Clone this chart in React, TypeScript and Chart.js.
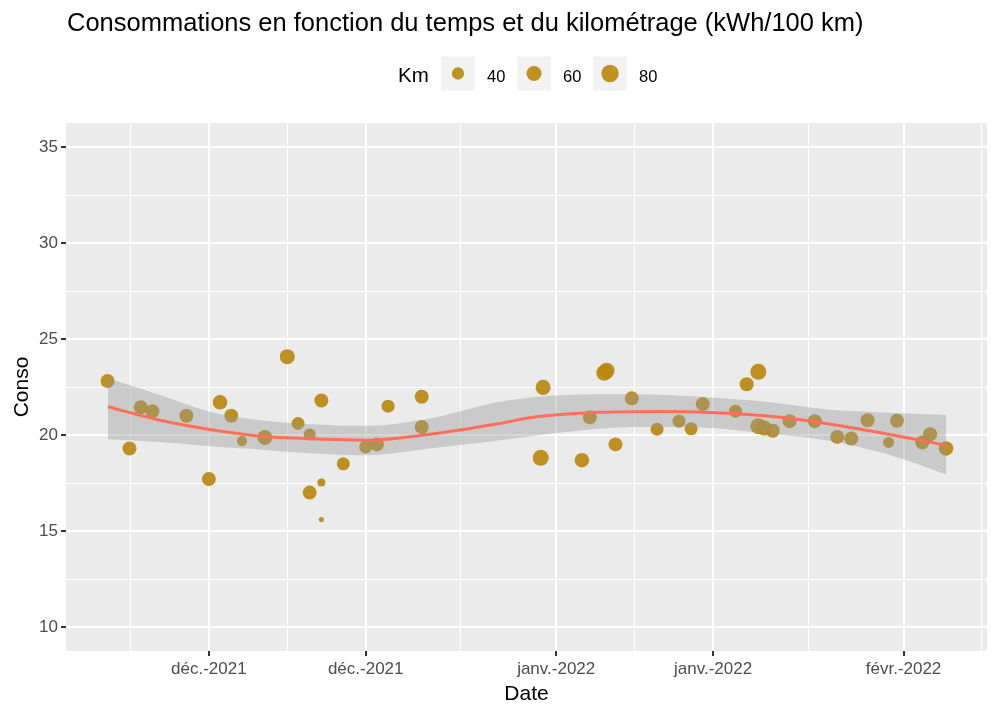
import React, { useEffect, useRef } from 'react';
import { Chart, registerables } from 'chart.js';

Chart.register(...registerables);

// ---------- data ----------
const ORIGIN = Date.UTC(2021, 11, 1); // x unit: days since 2021-12-01

const dates = [
  '2021-11-21 23', '2021-11-23 22', '2021-11-24 22', '2021-11-25 23', '2021-11-29 00',
  '2021-12-01 00', '2021-12-02 00', '2021-12-03 00', '2021-12-03 23', '2021-12-06 00',
  '2021-12-08 00', '2021-12-08 23', '2021-12-10 00', '2021-12-10 00', '2021-12-11 01',
  '2021-12-11 01', '2021-12-11 01', '2021-12-13 00', '2021-12-15 00', '2021-12-16 00',
  '2021-12-17 00', '2021-12-20 00', '2021-12-20 00', '2021-12-30 20', '2021-12-30 15',
  '2022-01-03 07', '2022-01-04 00', '2022-01-05 07', '2022-01-05 12', '2022-01-06 07',
  '2022-01-07 18', '2022-01-10 00', '2022-01-11 23', '2022-01-13 01', '2022-01-14 02',
  '2022-01-17 00', '2022-01-18 00', '2022-01-19 01', '2022-01-19 01', '2022-01-19 14',
  '2022-01-20 08', '2022-01-21 20', '2022-01-24 02', '2022-01-26 02', '2022-01-27 08',
  '2022-01-28 19', '2022-01-30 16', '2022-01-31 10', '2022-02-02 16', '2022-02-03 09',
  '2022-02-04 19',
];

const conso = [
  22.81, 19.30, 21.44, 21.24, 21.00,
  17.71, 21.70, 21.00, 19.68, 19.87,
  24.08, 20.60, 20.03, 17.00, 21.80,
  17.52, 15.60, 18.50, 19.38, 19.51,
  21.50, 21.99, 20.42, 22.48, 18.81,
  18.69, 20.92, 23.24, 23.35, 19.51,
  21.91, 20.30, 20.72, 20.32, 21.61,
  21.24, 22.64, 23.29, 20.46, 20.36,
  20.22, 20.72, 20.72, 19.90, 19.82,
  20.77, 19.61, 20.74, 19.61, 20.04,
  19.30,
];

const km = [
  52, 52, 52, 52, 52,
  52, 56, 52, 27, 60,
  60, 45, 38, 52, 52,
  17, 7, 45, 45, 52,
  45, 52, 52, 60, 68,
  56, 52, 68, 68, 52,
  52, 45, 45, 45, 52,
  45, 52, 68, 68, 60,
  52, 52, 52, 52, 52,
  52, 32, 52, 52, 52,
  56,
];

// loess fit
const fitDays = [-9.01, -4.37, 0.09, 4.55, 7.23, 14.07, 19.71, 25.96, 28.93, 34.88, 40.83, 46.77, 52.72, 58.67, 65.81];
const fitValues = [21.47, 20.77, 20.29, 19.94, 19.85, 19.73, 20.04, 20.60, 20.92, 21.18, 21.23, 21.12, 20.81, 20.25, 19.47];

// confidence band
const bandDays = [-9.01, -4.37, 0.09, 4.55, 7.23, 14.07, 19.71, 25.96, 31.91, 37.82, 43.8, 49.75, 55.66, 58.07, 62.24, 65.81];
const bandUpper = [22.95, 22.08, 21.21, 20.77, 20.63, 20.48, 20.86, 21.73, 22.08, 22.12, 21.99, 21.73, 21.30, 21.24, 21.12, 21.04];
const bandLower = [19.78, 19.64, 19.42, 19.25, 19.12, 18.95, 19.30, 19.73, 20.16, 20.42, 20.39, 20.08, 19.68, 19.37, 18.69, 17.94];

// axes
const xBreakDates = ['2021-12-01', '2021-12-15', '2022-01-01', '2022-01-15', '2022-02-01'];
const xBreakLabels = ['déc.-2021', 'déc.-2021', 'janv.-2022', 'janv.-2022', 'févr.-2022'];
const yBreaks = [10, 15, 20, 25, 30, 35];
const legendKm = [40, 60, 80];

const TITLE = 'Consommations en fonction du temps et du kilométrage (kWh/100 km)';
const X_TITLE = 'Date';
const Y_TITLE = 'Conso';
const LEGEND_TITLE = 'Km';

// ---------- helpers ----------
const toDay = (s: string) => {
  const [d, h] = s.split(' ');
  const [Y, M, D] = d.split('-').map(Number);
  return (Date.UTC(Y, M - 1, D, h ? Number(h) : 0) - ORIGIN) / 86400000;
};

const xBreaks = xBreakDates.map(toDay);

const minorBreaks = (b: number[]) => {
  const bd = b[1] - b[0];
  const ext = [b[0] - bd, ...b, b[b.length - 1] + bd];
  const out: number[] = [];
  for (let i = 0; i < ext.length - 1; i++) out.push((ext[i] + ext[i + 1]) / 2);
  return out;
};

const X_MIN = -12.75;
const X_MAX = 69.45;
const Y_MIN = 8.75;
const Y_MAX = 36.25;

const xMinor = minorBreaks(xBreaks).filter((v) => v > X_MIN && v < X_MAX);
const yMinor = minorBreaks(yBreaks).filter((v) => v > Y_MIN && v < Y_MAX);

const POINT_COLOR = 'rgba(184,134,11,0.9)';
const FONT = '"Liberation Sans", Arial, sans-serif';
const radiusFor = (k: number) => 0.97 * Math.sqrt(k);

const isMajor = (list: number[], v: number | undefined) =>
  v !== undefined && list.some((b) => Math.abs(b - v) < 1e-6);

const decor = {
  id: 'decor',
  beforeDraw(chart: any) {
    const { ctx, chartArea: a } = chart;
    ctx.save();
    ctx.fillStyle = '#FFFFFF';
    ctx.fillRect(0, 0, chart.width, chart.height);
    ctx.fillStyle = '#EBEBEB';
    ctx.fillRect(a.left, a.top, a.right - a.left, a.bottom - a.top);
    ctx.restore();
  },
  afterDraw(chart: any) {
    const { ctx, chartArea: a } = chart;
    ctx.save();
    ctx.fillStyle = '#000000';
    ctx.textBaseline = 'alphabetic';
    // title
    ctx.font = `25.5px ${FONT}`;
    ctx.textAlign = 'left';
    ctx.fillText(TITLE, 67, 30.5);
    // x title
    ctx.font = `21px ${FONT}`;
    ctx.textAlign = 'center';
    ctx.fillText(X_TITLE, (a.left + a.right) / 2, 700);
    // y title
    ctx.save();
    ctx.translate(28, (a.top + a.bottom) / 2);
    ctx.rotate(-Math.PI / 2);
    ctx.fillText(Y_TITLE, 0, 0);
    ctx.restore();
    // legend
    ctx.textAlign = 'left';
    ctx.font = `20.5px ${FONT}`;
    ctx.fillText(LEGEND_TITLE, 398, 82);
    legendKm.forEach((k, i) => {
      const cx = 458 + 76 * i;
      const cy = 73.5;
      ctx.fillStyle = '#F2F2F2';
      ctx.fillRect(cx - 17, cy - 17, 34, 34);
      ctx.fillStyle = POINT_COLOR;
      ctx.beginPath();
      ctx.arc(cx, cy, radiusFor(k), 0, Math.PI * 2);
      ctx.fill();
      ctx.fillStyle = '#000000';
      ctx.font = `16.5px ${FONT}`;
      ctx.fillText(String(k), cx + 29, 81.5);
    });
    ctx.restore();
  },
};

export default function App() {
  const ref = useRef<HTMLCanvasElement>(null);

  useEffect(() => {
    if (!ref.current) return;
    const xTickVals = [...xBreaks, ...xMinor].sort((p, q) => p - q);
    const yTickVals = [...yBreaks, ...yMinor].sort((p, q) => p - q);

    const chart = new Chart(ref.current, {
      type: 'scatter',
      data: {
        datasets: [
          {
            label: 'fit',
            data: fitDays.map((d, i) => ({ x: d, y: fitValues[i] })),
            showLine: true,
            borderColor: '#FF6F59',
            borderWidth: 3,
            pointRadius: 0,
            cubicInterpolationMode: 'monotone',
            fill: false,
            order: 0,
          },
          {
            label: 'upper',
            data: bandDays.map((d, i) => ({ x: d, y: bandUpper[i] })),
            showLine: true,
            borderWidth: 0,
            borderColor: 'rgba(0,0,0,0)',
            pointRadius: 0,
            cubicInterpolationMode: 'monotone',
            fill: false,
            order: 1,
          },
          {
            label: 'lower',
            data: bandDays.map((d, i) => ({ x: d, y: bandLower[i] })),
            showLine: true,
            borderWidth: 0,
            borderColor: 'rgba(0,0,0,0)',
            backgroundColor: 'rgba(153,153,153,0.4)',
            pointRadius: 0,
            cubicInterpolationMode: 'monotone',
            fill: '-1',
            order: 1,
          },
          {
            label: 'points',
            data: dates.map((d, i) => ({ x: toDay(d), y: conso[i] })),
            showLine: false,
            pointRadius: (c: any) => radiusFor(km[c.dataIndex] ?? 40),
            pointBackgroundColor: POINT_COLOR,
            pointBorderWidth: 0,
            pointBorderColor: 'rgba(0,0,0,0)',
            order: 2,
          },
        ] as any,
      },
      options: {
        animation: false,
        responsive: false,
        devicePixelRatio: 1,
        events: [],
        layout: { padding: { top: 123, right: 13, left: 0, bottom: 0 } },
        plugins: {
          legend: { display: false },
          title: { display: false },
          tooltip: { enabled: false },
        },
        scales: {
          x: {
            type: 'linear',
            min: X_MIN,
            max: X_MAX,
            afterBuildTicks: (s: any) => {
              s.ticks = xTickVals.map((v) => ({ value: v }));
            },
            afterFit: (s: any) => {
              s.height = 64;
            },
            border: { display: false },
            grid: {
              color: '#FFFFFF',
              lineWidth: (c: any) => (isMajor(xBreaks, c.tick?.value) ? 2 : 1),
              drawTicks: true,
              tickLength: 5,
              tickWidth: 2,
              tickColor: (c: any) => (isMajor(xBreaks, c.tick?.value) ? '#333333' : 'rgba(0,0,0,0)'),
            },
            ticks: {
              autoSkip: false,
              maxRotation: 0,
              minRotation: 0,
              padding: 3,
              color: '#4D4D4D',
              font: { family: FONT, size: 17 },
              callback: (v: any) => {
                const i = xBreaks.findIndex((b) => Math.abs(b - Number(v)) < 1e-6);
                return i >= 0 ? xBreakLabels[i] : '';
              },
            },
          },
          y: {
            type: 'linear',
            min: Y_MIN,
            max: Y_MAX,
            afterBuildTicks: (s: any) => {
              s.ticks = yTickVals.map((v) => ({ value: v }));
            },
            afterFit: (s: any) => {
              s.width = 66;
            },
            border: { display: false },
            grid: {
              color: '#FFFFFF',
              lineWidth: (c: any) => (isMajor(yBreaks, c.tick?.value) ? 2 : 1),
              drawTicks: true,
              tickLength: 5,
              tickWidth: 2,
              tickColor: (c: any) => (isMajor(yBreaks, c.tick?.value) ? '#333333' : 'rgba(0,0,0,0)'),
            },
            ticks: {
              autoSkip: false,
              padding: 3,
              color: '#4D4D4D',
              font: { family: FONT, size: 17 },
              callback: (v: any) => (isMajor(yBreaks, Number(v)) ? String(v) : ''),
            },
          },
        },
      },
      plugins: [decor],
    } as any);

    return () => chart.destroy();
  }, []);

  return (
    <div style={{ position: 'absolute', left: 0, top: 0, width: 1000, height: 715 }}>
      <canvas ref={ref} width={1000} height={715} style={{ display: 'block', width: 1000, height: 715 }} />
    </div>
  );
}
